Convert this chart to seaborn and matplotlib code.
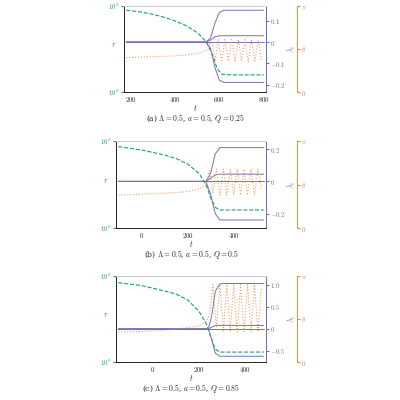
import numpy as np
import matplotlib
matplotlib.use("Agg")
import matplotlib.pyplot as plt
import seaborn as sns

sns.set_style("white")
plt.rcParams['font.family'] = ['DejaVu Serif']
plt.rcParams['mathtext.fontset'] = 'cm'

G, P, O = '#1b9e77', '#7570b3', '#ee8a3c'

# ---- panel (a)
a_t_r = [180,250,300,350,400,450,500,530,550,570,590,610,650,700,800]
a_r = [80,72,64,55,45,35,24,17,12,7,3.5,2.6,2.5,2.5,2.5]
a_t_th = [180,300,400,450,500,530,550,565,580,595,610,625,640,655,670,685,700,715,730,745,760,775,790]
a_th = [0.40,0.41,0.42,0.43,0.45,0.47,0.50,0.62,0.36,0.61,0.35,0.61,0.36,0.61,0.35,0.61,0.36,0.61,0.35,0.61,0.36,0.61,0.36]
a_t_l = [180,540,560,580,600,620,800]
a_l1 = [0,0,0.02,0.09,0.14,0.15,0.15]
a_l2 = [0,0,0.01,0.025,0.03,0.03,0.03]
a_l3 = [0,0,0,0,0,0,0]
a_l4 = [0,0,-0.03,-0.12,-0.18,-0.19,-0.19]

# ---- panel (b)
b_t_r = [-100,0,100,150,200,250,280,300,320,340,400,530]
b_r = [75,63,48,40,30,18,10,5,3,2.6,2.6,2.6]
b_t_th = [-100,0,100,200,250,280,295,310,325,340,355,370,385,400,415,430,445,460,475,490,505,520]
b_th = [0.38,0.39,0.40,0.42,0.45,0.50,0.66,0.40,0.68,0.38,0.68,0.38,0.68,0.38,0.68,0.38,0.68,0.38,0.68,0.38,0.68,0.45]
b_t_l = [-100,280,300,320,340,360,530]
b_l1 = [0,0,0.05,0.17,0.21,0.21,0.21]
b_l2 = [0,0,0.02,0.04,0.045,0.045,0.045]
b_l3 = [0,0,0,0,0,0,0]
b_l4 = [0,0,-0.08,-0.2,-0.24,-0.24,-0.24]

# ---- panel (c)
c_t_r = [-150,-50,50,100,150,200,230,250,270,290,350,480]
c_r = [70,60,45,38,28,15,8,4,2,1.7,1.7,1.7]
c_t_th = [-150,0,100,200,230,245,260,275,290,305,320,335,350,365,380,395,410,425,440,455,470]
c_th = [0.35,0.36,0.38,0.42,0.47,0.55,0.90,0.40,0.90,0.35,0.90,0.35,0.90,0.35,0.90,0.35,0.90,0.35,0.90,0.35,0.85]
c_t_l = [-150,240,255,270,290,310,480]
c_l1 = [0,0,0.3,0.85,1.02,1.03,1.03]
c_l2 = [0,0,0.04,0.08,0.08,0.08,0.08]
c_l3 = [0,0,0,0,0,0,0]
c_l4 = [0,0,-0.25,-0.55,-0.62,-0.62,-0.62]

panels = [
    dict(tr=a_t_r, r=a_r, tth=a_t_th, th=a_th, tl=a_t_l, ls=[a_l1,a_l2,a_l3,a_l4],
         xlim=(170,810), xt=[200,400,600,800], llim=(-0.235,0.17), lt=[-0.2,-0.1,0,0.1],
         ltl=['$-0.2$','$-0.1$','$0$','$0.1$'], cap=r'(a) $\Lambda=0.5$, $a=0.5$, $Q=0.25$',
         rect=[0.31,0.77,0.355,0.215]),
    dict(tr=b_t_r, r=b_r, tth=b_t_th, th=b_th, tl=b_t_l, ls=[b_l1,b_l2,b_l3,b_l4],
         xlim=(-110,540), xt=[0,200,400], llim=(-0.29,0.25), lt=[-0.2,0,0.2],
         ltl=['$-0.2$','$0$','$0.2$'], cap=r'(b) $\Lambda=0.5$, $a=0.5$, $Q=0.5$',
         rect=[0.29,0.43,0.375,0.217]),
    dict(tr=c_t_r, r=c_r, tth=c_t_th, th=c_th, tl=c_t_l, ls=[c_l1,c_l2,c_l3,c_l4],
         xlim=(-160,490), xt=[0,200,400], llim=(-0.75,1.2), lt=[-0.5,0,0.5,1.0],
         ltl=['$-0.5$','$0$','$0.5$','$1.0$'], cap=r'(c) $\Lambda=0.5$, $a=0.5$, $Q=0.85$',
         rect=[0.29,0.095,0.375,0.215]),
]

fig = plt.figure(figsize=(4,4), dpi=100)
for p in panels:
    ax = fig.add_axes(p['rect'])
    axl = ax.twinx()
    axt = ax.twinx()
    axt.spines['right'].set_position(('outward', 22))
    sns.lineplot(x=p['tr'], y=p['r'], ax=ax, color=G, linestyle='--', lw=0.8)
    ax.set_yscale('log'); ax.set_ylim(1,100)
    ax.set_yticks([1,100]); ax.set_yticklabels(['$10^0$','$10^2$'])
    ax.yaxis.set_minor_locator(matplotlib.ticker.NullLocator())
    ax.set_xlim(*p['xlim']); ax.set_xticks(p['xt'])
    ax.set_xticklabels([f'${v}$' for v in p['xt']])
    ax.set_ylabel('$r$', color=G, fontsize=6, labelpad=-4, rotation=0)
    ax.set_xlabel('$t$', fontsize=5.5)
    ax.xaxis.set_label_coords(0.5, -0.13)
    for lv in p['ls']:
        sns.lineplot(x=p['tl'], y=lv, ax=axl, color=P, lw=0.7)
    axl.set_ylim(*p['llim']); axl.set_yticks(p['lt']); axl.set_yticklabels(p['ltl'])
    axl.set_ylabel(r'$\lambda_i$', color=P, fontsize=6, labelpad=0)
    sns.lineplot(x=p['tth'], y=np.array(p['th'])*np.pi, ax=axt, color=O, linestyle=':', lw=0.8, alpha=0.8)
    axt.set_ylim(0, np.pi); axt.set_yticks([0, np.pi/2, np.pi])
    axt.set_yticklabels(['$0$', r'$\theta$', r'$\pi$'])
    for a in (ax, axl, axt):
        a.tick_params(labelsize=5, length=2, pad=1)
    ax.tick_params(axis='x', pad=0.5)
    ax.tick_params(axis='y', colors=G)
    axl.tick_params(axis='y', colors=P)
    axt.tick_params(axis='y', colors=O)
    ax.spines['left'].set_color(G); axl.spines['right'].set_color(P)
    axt.spines['right'].set_color(O)
    for a in (ax, axl, axt):
        for s in a.spines.values(): s.set_linewidth(0.7)
        a.spines['top'].set_color('#cccccc')
    ax.spines['bottom'].set_color('#999999')
    ax.text(0.5, -0.31, p['cap'], transform=ax.transAxes, ha='center', va='center', fontsize=5.5)
fig.savefig('out.png', dpi=100)
